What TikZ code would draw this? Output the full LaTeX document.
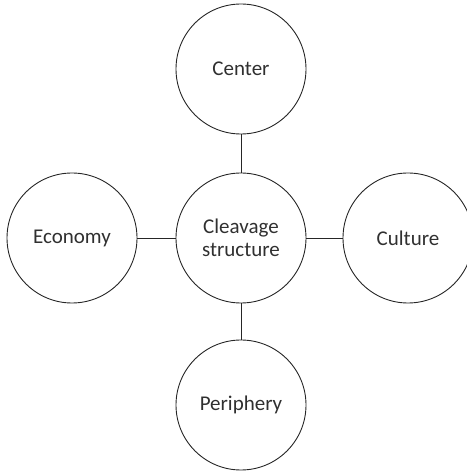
\documentclass[tikz,border=0pt]{standalone}
\usepackage{fontspec}
\setmainfont{Carlito}
\definecolor{txt}{HTML}{303030}
\begin{document}
\begin{tikzpicture}[x=1pt,y=1pt,
  bub/.style={circle,draw=black!85,line width=0.9pt,minimum size=130pt,inner sep=0pt,
    text=txt,font=\fontsize{21}{23.5}\selectfont,align=center},
  link/.style={draw=black!85,line width=0.9pt}]
\useasboundingbox (0,0) rectangle (466,471);
\node[bub] (cs) at (241,233) {Cleavage\\structure};
\node[bub] (ce) at (241,402) {Center};
\node[bub] (ec) at (72,233) {Economy};
\node[bub] (cu) at (408,233) {Culture};
\node[bub] (pe) at (241,66) {Periphery};
\draw[link] (ce) -- (cs);
\draw[link] (cs) -- (pe);
\draw[link] (ec) -- (cs);
\draw[link] (cs) -- (cu);
\end{tikzpicture}
\end{document}
